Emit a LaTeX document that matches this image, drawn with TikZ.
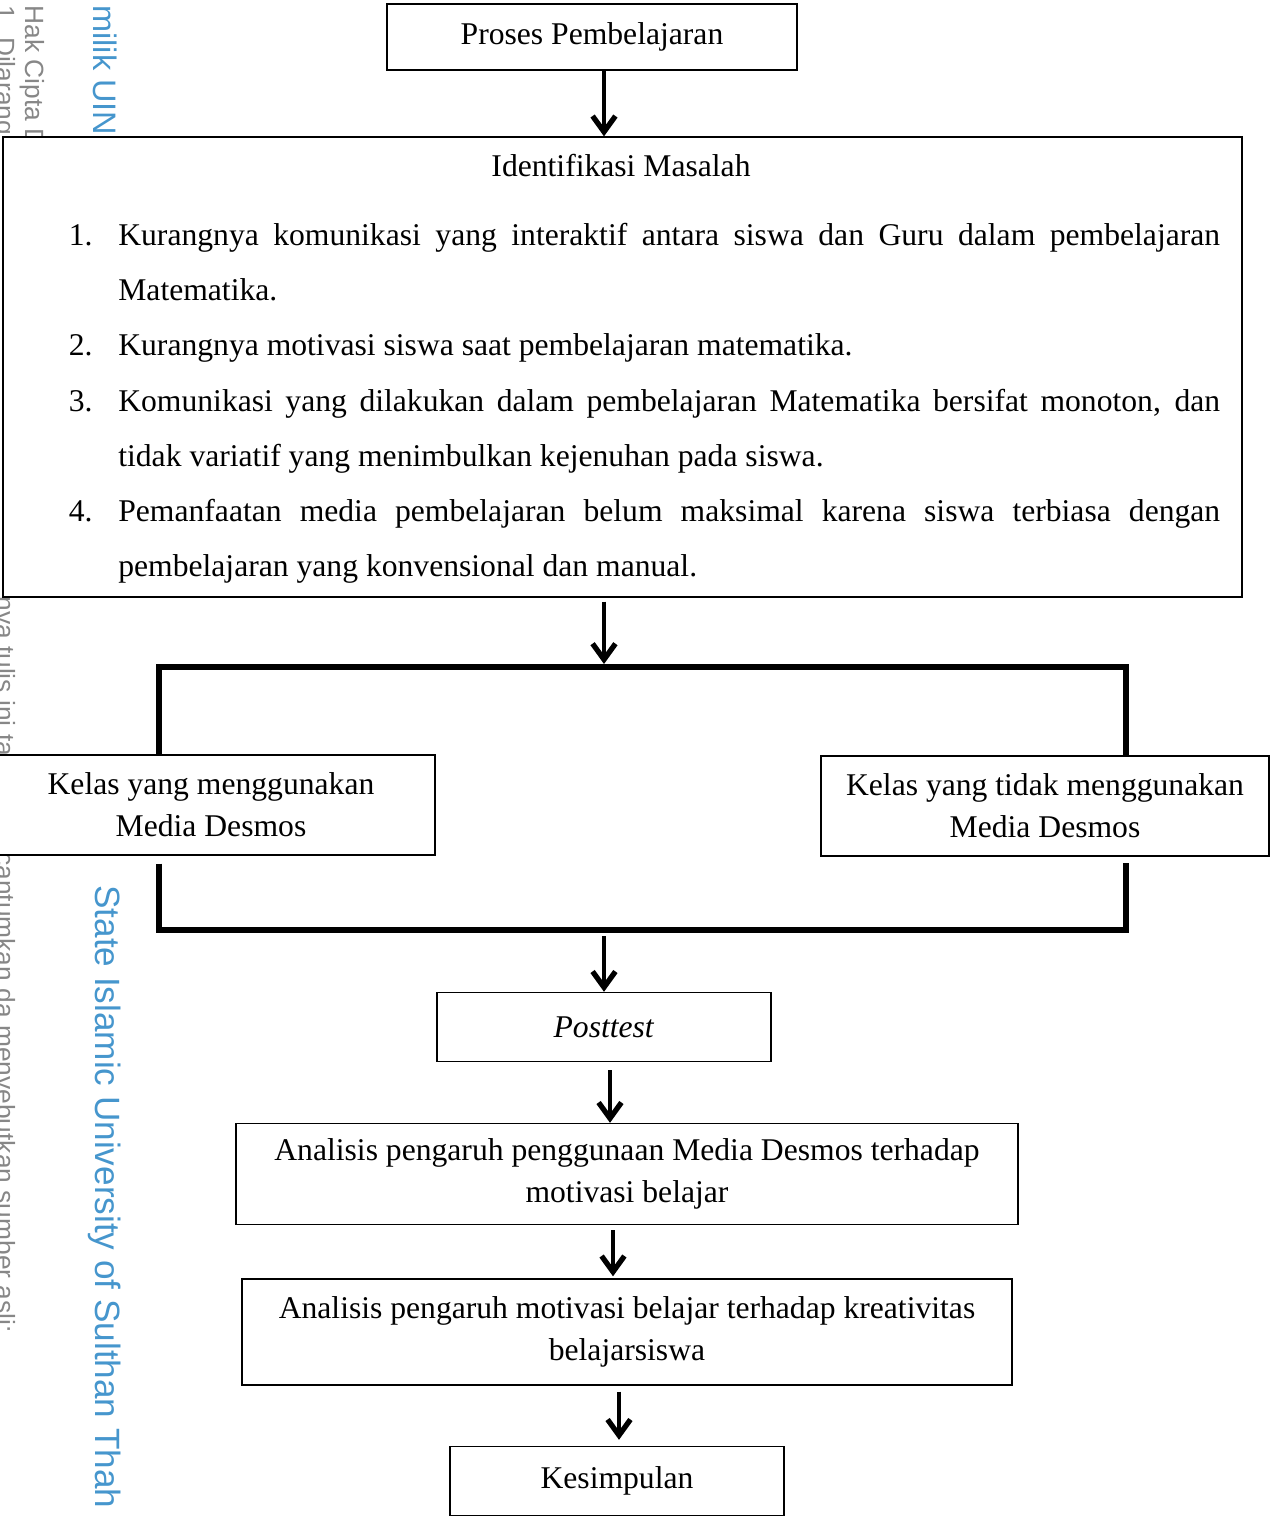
\documentclass[tikz,border=0pt]{standalone}
\usepackage{fontspec}
\setmainfont{Liberation Serif}
\newfontfamily\wmfont{Liberation Sans}
\usetikzlibrary{arrows.meta,calc}
\definecolor{wmblue}{RGB}{70,150,205}
\definecolor{wmgray}{RGB}{135,135,135}

\begin{document}
\begin{tikzpicture}[x=0.02cm, y=-0.02cm,
    kotak/.style={draw, line width=0.8pt, fill=white, align=center, inner sep=0pt, font=\fontsize{18}{24}\selectfont},
    teks/.style={inner sep=0pt, font=\fontsize{18}{24}\selectfont},
    baris/.style={teks, anchor=base west},
    nomor/.style={teks, anchor=base east},
    panah/.style={line width=2.8pt, -{Straight Barb[length=9pt,width=13pt,line width=3pt]}},
    garis/.style={line width=3pt},
    wmabu/.style={rotate=-90, anchor=west, inner sep=0pt, text=wmgray, font=\wmfont\fontsize{15}{15}\selectfont},
    wmbiru/.style={rotate=-90, anchor=west, inner sep=0pt, text=wmblue, font=\wmfont\fontsize{20}{20}\selectfont}]
    \useasboundingbox (0,0) rectangle (1274,1518);

    % watermark di tepi kiri
    \node[wmabu] (wm1) at (3,5) {1. Dilarang};
    \node[wmabu] (wm2) at (32,5) {Hak Cipta D};
    \node[wmbiru, font=\wmfont\fontsize{18.5}{18.5}\selectfont] (wm3) at (105,5) {milik UIN};
    \node[wmabu] (wm4) at (3,596) {nya tulis ini ta};
    \node[wmabu] (wm5) at (3,852) {cantumkan da menyebutkan sumber asli:};
    \node[wmbiru] (wm6) at (105,885) {State Islamic University of Sulthan Thah};

    % kotak-kotak
    \node[kotak, minimum width=8.2cm, minimum height=1.32cm] (proses) at (592,37) {Proses Pembelajaran};
    \node[kotak, minimum width=24.78cm, minimum height=9.2cm] (masalah) at (622.5,367) {};
    \node[teks] (judul) at (621,166) {Identifikasi Masalah};

    \node[nomor] (n1) at (93,245) {1.};
    \node[baris] (b1) at (118,245) {\makebox[22.04cm][s]{Kurangnya komunikasi yang interaktif antara siswa dan Guru dalam pembelajaran}};
    \node[baris] (b2) at (118,300) {Matematika.};
    \node[nomor] (n2) at (93,355) {2.};
    \node[baris] (b3) at (118,355) {Kurangnya motivasi siswa saat pembelajaran matematika.};
    \node[nomor] (n3) at (93,411) {3.};
    \node[baris] (b4) at (118,411) {\makebox[22.04cm][s]{Komunikasi yang dilakukan dalam pembelajaran Matematika bersifat monoton, dan}};
    \node[baris] (b5) at (118,466) {tidak variatif yang menimbulkan kejenuhan pada siswa.};
    \node[nomor] (n4) at (93,521) {4.};
    \node[baris] (b6) at (118,521) {\makebox[22.04cm][s]{Pemanfaatan media pembelajaran belum maksimal karena siswa terbiasa dengan}};
    \node[baris] (b7) at (118,576) {pembelajaran yang konvensional dan manual.};

    \node[kotak, minimum width=8.96cm, minimum height=2cm] (pakai) at (211,805) {Kelas yang menggunakan\\Media Desmos};
    \node[kotak, minimum width=8.96cm, minimum height=2cm] (tanpa) at (1045,806) {Kelas yang tidak menggunakan\\Media Desmos};
    \node[kotak, minimum width=6.68cm, minimum height=1.38cm] (posttest) at (604,1027) {\textit{Posttest}};
    \node[kotak, minimum width=15.64cm, minimum height=2.02cm] (analisis1) at (627,1174) {Analisis pengaruh penggunaan Media Desmos terhadap\\motivasi belajar};
    \node[kotak, minimum width=15.4cm, minimum height=2.12cm] (analisis2) at (627,1332) {Analisis pengaruh motivasi belajar terhadap kreativitas\\belajarsiswa};
    \node[kotak, minimum width=6.68cm, minimum height=1.38cm] (simpulan) at (617,1481) {Kesimpulan};

    % garis pembagi kelas
    \coordinate (kiriatas) at (159,667);
    \coordinate (kananatas) at (1126,667);
    \coordinate (kiribawah) at (159,930);
    \coordinate (kananbawah) at (1126,930);
    \draw[garis] (pakai.north -| kiriatas) -- (kiriatas) -- (kananatas) -- (tanpa.north -| kananatas);
    \draw[garis] ($(pakai.south -| kiribawah)+(0,8)$) -- (kiribawah) -- (kananbawah) -- ($(tanpa.south -| kananbawah)+(0,6)$);

    % panah
    \draw[panah] (proses.south -| posttest.north) -- (masalah.north -| posttest.north);
    \draw[panah] ($(masalah.south -| posttest.north)+(0,4)$) -- ($(kiriatas -| posttest.north)+(0,-3)$);
    \draw[panah] ($(kiribawah -| posttest.north)+(0,6)$) -- (posttest.north);
    \draw[panah] ($(posttest.south)+(6,8)$) -- ($(analisis1.north -| posttest.south)+(6,0)$);
    \draw[panah] ($(analisis1.south -| posttest.south)+(9,5)$) -- ($(analisis2.north -| posttest.south)+(9,-2)$);
    \draw[panah] ($(analisis2.south -| posttest.south)+(15,6)$) -- ($(simpulan.north -| posttest.south)+(15,-6)$);
\end{tikzpicture}
\end{document}
